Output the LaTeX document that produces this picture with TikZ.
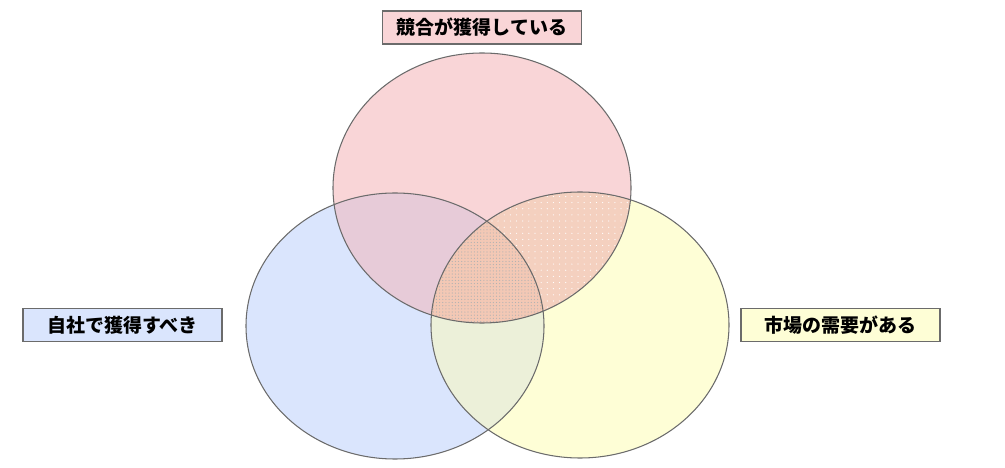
\documentclass[tikz,border=0pt]{standalone}
\usepackage{fontspec}
\newfontfamily\jp{Noto Sans CJK JP}
\usetikzlibrary{patterns.meta}
\definecolor{topfill}{HTML}{F9D5D7}
\definecolor{leftfill}{HTML}{DAE5FD}
\definecolor{rightfill}{HTML}{FEFED6}
\definecolor{tlfill}{HTML}{E7CBD8}
\definecolor{trfill}{HTML}{F4D0BF}
\definecolor{lrfill}{HTML}{ECF0D9}
\definecolor{midfill}{HTML}{F3C8B5}
\definecolor{ringedge}{HTML}{6B6B6B}
\newcommand{\topset}{(482,279) ellipse [x radius=149, y radius=135]}
\newcommand{\leftset}{(395,141) ellipse [x radius=149, y radius=133]}
\newcommand{\rightset}{(580,142) ellipse [x radius=149, y radius=133]}

\begin{document}
\begin{tikzpicture}[x=0.02cm, y=0.02cm,
    tag/.style={draw=ringedge, line width=0.6pt, minimum width=3.98cm, minimum height=0.66cm,
                inner sep=0pt, font=\jp\fontsize{10.8}{13}\selectfont\bfseries},
    ring/.style={draw=ringedge, line width=0.6pt}]
    \useasboundingbox (0,0) rectangle (1005,467);
    % the three sets
    \fill[leftfill] \leftset;
    \fill[rightfill] \rightset;
    \fill[topfill] \topset;
    % pairwise overlaps
    \begin{scope}
        \clip \topset;
        \fill[tlfill] \leftset;
    \end{scope}
    \begin{scope}
        \clip \leftset;
        \fill[lrfill] \rightset;
    \end{scope}
    \begin{scope}
        \clip \topset;
        \fill[trfill] \rightset;
        \fill[pattern={Dots[radius=0.35pt, distance=3.5pt]}, pattern color=white] \rightset;
    \end{scope}
    % centre
    \begin{scope}
        \clip \topset;
        \clip \leftset;
        \fill[midfill] \rightset;
        \fill[pattern={Dots[radius=0.35pt, distance=1.8pt]}, pattern color=gray!60] \rightset;
    \end{scope}
    \draw[ring] \leftset;
    \draw[ring] \rightset;
    \draw[ring] \topset;
    % labels
    \node[tag, fill=topfill] (rival) at (482,439.5) {競合が獲得している};
    \node[tag, fill=leftfill] (ours) at (122.5,142) {自社で獲得すべき};
    \node[tag, fill=rightfill] (demand) at (840.5,142) {市場の需要がある};
\end{tikzpicture}
\end{document}
